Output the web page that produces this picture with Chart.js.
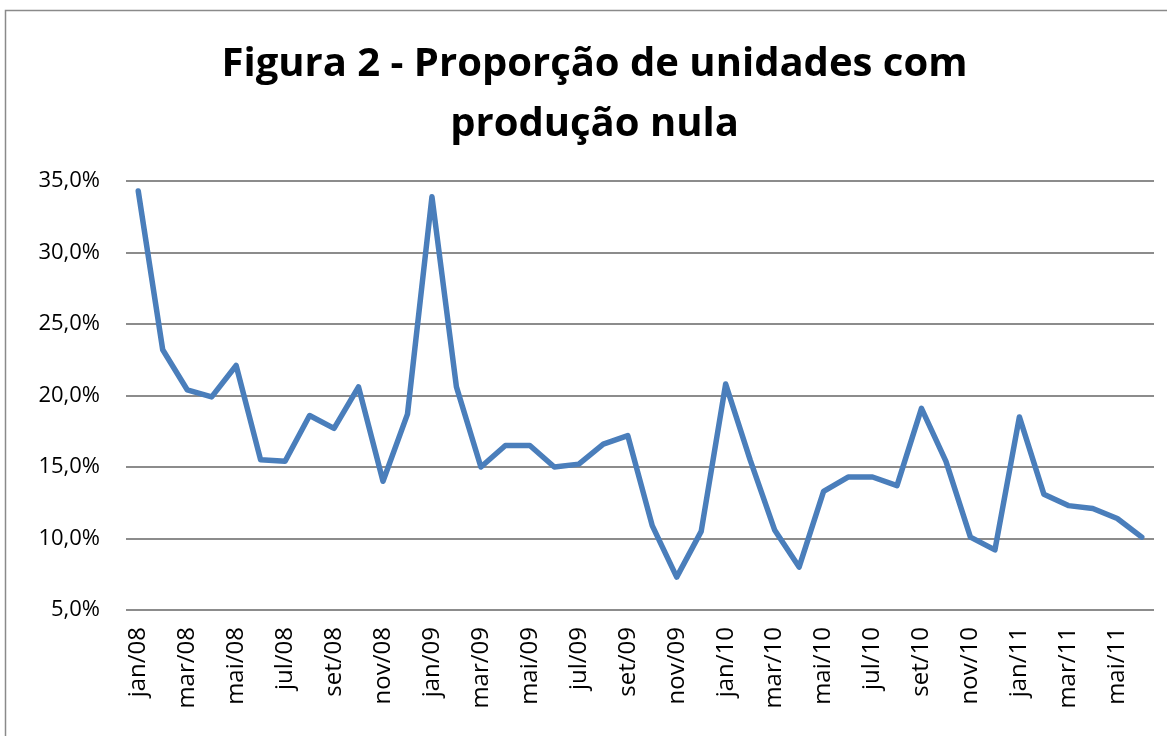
<!DOCTYPE html>
<html>
<head>
<meta charset="utf-8">
<script src="https://cdn.jsdelivr.net/npm/chart.js@4/dist/chart.umd.min.js"></script>
<style>
  html, body { margin: 0; padding: 0; background: #ffffff; }
  #wrap { position: relative; width: 1167px; height: 736px; }
</style>
</head>
<body>
<div id="wrap"><canvas id="c" width="1167" height="736"></canvas></div>
<script>
const titleLines = ['Figura 2 - Proporção de unidades com', 'produção nula'];

const categories = [
  'jan/08','fev/08','mar/08','abr/08','mai/08','jun/08','jul/08','ago/08','set/08','out/08','nov/08','dez/08',
  'jan/09','fev/09','mar/09','abr/09','mai/09','jun/09','jul/09','ago/09','set/09','out/09','nov/09','dez/09',
  'jan/10','fev/10','mar/10','abr/10','mai/10','jun/10','jul/10','ago/10','set/10','out/10','nov/10','dez/10',
  'jan/11','fev/11','mar/11','abr/11','mai/11','jun/11'
];

const values2008 = [34.3, 23.2, 20.4, 19.9, 22.1, 15.5, 15.4, 18.6, 17.7, 20.6, 14.0, 18.7];
const values2009 = [33.9, 20.6, 15.0, 16.5, 16.5, 15.0, 15.2, 16.6, 17.2, 10.9, 7.3, 10.5];
const values2010 = [20.8, 15.5, 10.6, 8.0, 13.3, 14.3, 14.3, 13.7, 19.1, 15.4, 10.1, 9.2];
const values2011 = [18.5, 13.1, 12.3, 12.1, 11.4, 10.1];

const proporcao = [].concat(values2008, values2009, values2010, values2011);

const yTicks = [5, 10, 15, 20, 25, 30, 35];

const frame = {
  id: 'frame',
  beforeDraw(chart) {
    const ctx = chart.ctx;
    ctx.save();
    ctx.fillStyle = '#ffffff';
    ctx.fillRect(0, 0, chart.width, chart.height);
    ctx.strokeStyle = '#8a8a8a';
    ctx.lineWidth = 1.5;
    ctx.beginPath();
    ctx.moveTo(5.5, chart.height + 5);
    ctx.lineTo(5.5, 10.5);
    ctx.lineTo(chart.width + 5, 10.5);
    ctx.stroke();
    ctx.restore();
  }
};

new Chart(document.getElementById('c'), {
  type: 'line',
  data: {
    labels: categories,
    datasets: [{
      data: proporcao,
      borderColor: '#4a7ebb',
      borderWidth: 5.5,
      pointRadius: 0,
      tension: 0,
      fill: false,
      borderJoinStyle: 'round',
      borderCapStyle: 'round'
    }]
  },
  options: {
    responsive: false,
    animation: false,
    layout: { padding: { left: 22, right: 0, top: 0, bottom: 0 } },
    plugins: {
      legend: { display: false },
      tooltip: { enabled: false },
      title: {
        display: true,
        text: titleLines,
        color: '#000000',
        font: { family: 'Open Sans', size: 40, weight: 'bold', lineHeight: 1.5 },
        padding: { top: 35, bottom: 26 }
      }
    },
    scales: {
      x: {
        offset: true,
        grid: { display: false, drawTicks: false },
        border: { display: false },
        ticks: {
          autoSkip: false,
          maxRotation: 90,
          minRotation: 90,
          padding: 17,
          color: '#000000',
          font: { family: 'Open Sans', size: 24 },
          callback: function (v, i) { return i % 2 === 0 ? categories[i] : ''; }
        },
        afterFit(scale) {
          scale.height = 126;
          scale.paddingLeft = 0;
          scale.paddingRight = 13;
        }
      },
      y: {
        min: 5,
        max: 35,
        afterBuildTicks(scale) { scale.ticks = yTicks.map(v => ({ value: v })); },
        grid: { color: '#8c8c8c', lineWidth: 2, drawTicks: false },
        border: { display: false },
        ticks: {
          padding: 26,
          color: '#000000',
          font: { family: 'Open Sans', size: 22 },
          callback: function (v) { return v.toFixed(1).replace('.', ',') + '%'; }
        },
        afterFit(scale) { scale.width = 104; }
      }
    }
  },
  plugins: [frame]
});
</script>
</body>
</html>
